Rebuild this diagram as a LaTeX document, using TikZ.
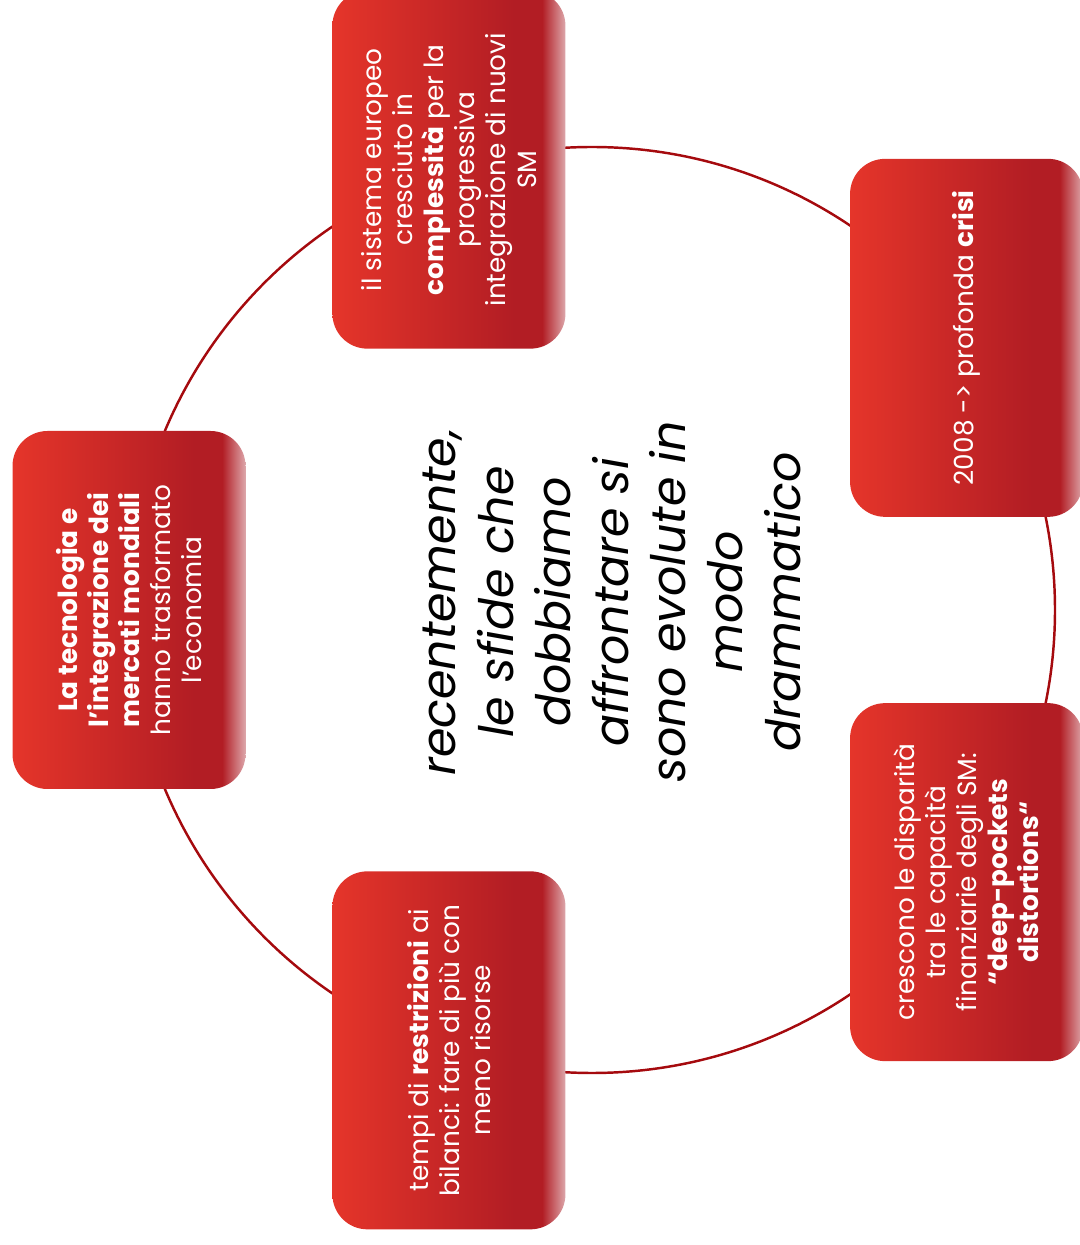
\documentclass[tikz,border=0pt]{standalone}
\usepackage{fontspec}
\setmainfont{Poppins}
\usetikzlibrary{calc}

\definecolor{boxlight}{HTML}{E5352A}
\definecolor{boxdark}{HTML}{B21D24}
\definecolor{boxedge}{HTML}{DDA7AB}
\definecolor{ringred}{HTML}{A50A0E}

% light on the left, dark red then a pale rim on the right
\pgfdeclarehorizontalshading{boxshade}{100bp}{color(0bp)=(boxlight); color(25bp)=(boxlight);
  color(64bp)=(boxdark); color(70bp)=(boxdark); color(75bp)=(boxedge); color(100bp)=(boxedge)}

\tikzset{
  redbox/.style={rectangle, rounded corners=0.7cm, shading=boxshade, rotate=90,
    minimum width=7.16cm, minimum height=4.66cm, inner sep=0pt, text=white, align=center,
    font=\fontsize{15}{17.6}\selectfont},
  ring/.style={draw=ringred, line width=1.4pt}
}

\begin{document}
\begin{tikzpicture}
      \useasboundingbox (0,0) rectangle (21.58,24.9);
      \coordinate (c) at (11.84,12.7);

      % RING
      \draw[ring] (c) circle (9.26);

      % BOXES
      \node[redbox] (tech) at ($(c)+(180:9.26)$)
      {\textbf{La tecnologia e}\\ \textbf{l'integrazione dei}\\ \textbf{mercati mondiali}\\ hanno trasformato\\ l’economia};

      \node[redbox] (sistema) at ($(c)+(108:9.26)$)
      {il sistema europeo\\ cresciuto in\\ \textbf{complessità} per la\\ progressiva\\ integrazione di nuovi\\ SM};

      \node[redbox] (crisi) at ($(c)+(36:9.26)$)
      {2008 -> profonda \textbf{crisi}};

      \node[redbox] (disparita) at ($(c)+(-36:9.26)$)
      {crescono le disparità\\ tra le capacità\\ finanziarie degli SM:\\ \textbf{“deep-pockets}\\ \textbf{distortions“}};

      \node[redbox] (bilanci) at ($(c)+(-108:9.26)$)
      {tempi di \textbf{restrizioni} ai\\ bilanci: fare di più con\\ meno risorse};

      % CENTRE
      \node[rotate=90, align=center, font=\itshape\fontsize{27}{32.7}\selectfont] (sfide) at (12.24,12.86)
      {recentemente,\\ le sfide che\\ dobbiamo\\ affrontare si\\ sono evolute in\\ modo\\ drammatico};

\end{tikzpicture}
\end{document}
